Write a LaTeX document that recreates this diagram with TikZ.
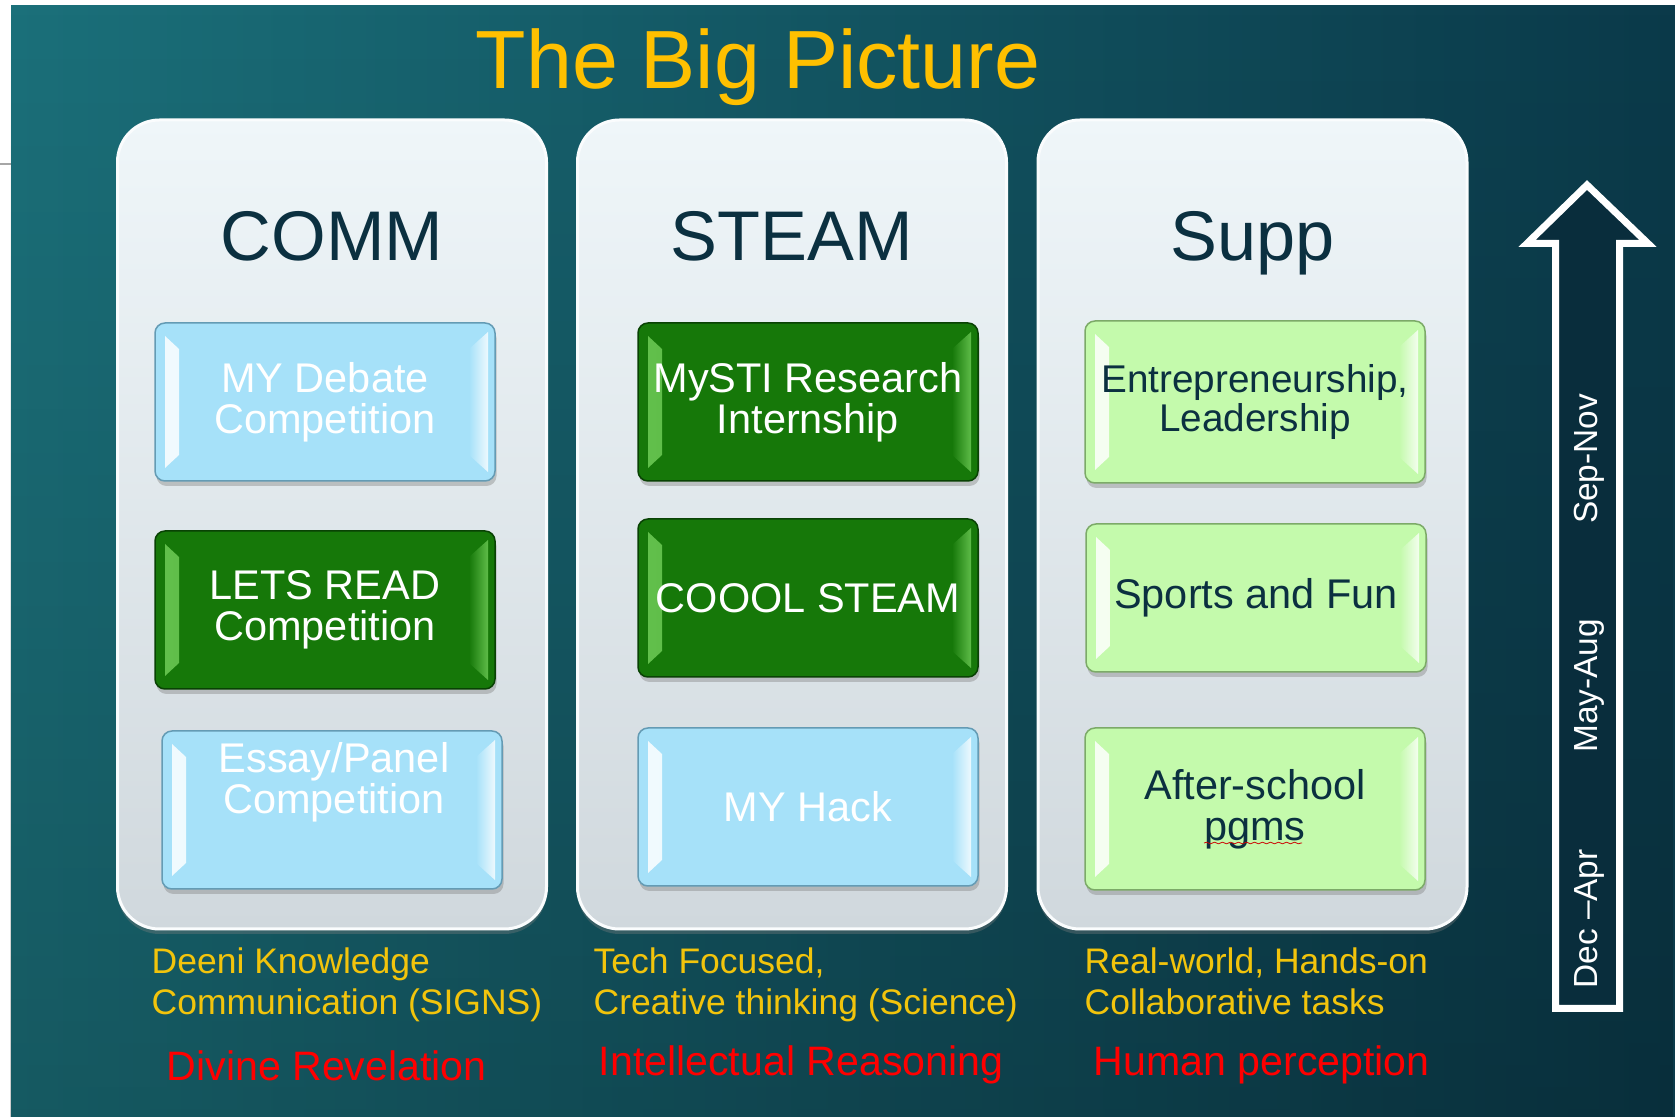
\documentclass[tikz,border=0pt]{standalone}
\usepackage{fontspec}
\setmainfont{Liberation Sans}
\usetikzlibrary{shadows,fadings,decorations.pathmorphing}
\definecolor{bgl}{RGB}{27,112,122}
\definecolor{bgr}{RGB}{11,58,74}
\definecolor{navy}{RGB}{11,48,64}
\definecolor{gold}{RGB}{255,192,0}
\definecolor{amber}{RGB}{242,196,12}
\definecolor{pnltop}{RGB}{239,246,249}
\definecolor{pnlbot}{RGB}{208,216,221}
\definecolor{skyface}{RGB}{166,225,249}
\definecolor{skyrim}{RGB}{100,155,180}
\definecolor{grnface}{RGB}{22,120,9}
\definecolor{grnrim}{RGB}{9,66,4}
\definecolor{grnhi}{RGB}{112,205,88}
\definecolor{limeface}{RGB}{196,250,172}
\definecolor{limerim}{RGB}{124,170,104}
\definecolor{arrowfill}{RGB}{9,45,60}

\tikzset{
  bevel/.style 2 args={path picture={
    \shade[sharp corners, left color=#2!85!#1, right color=#2!45!#1]
      ([shift={(1mm,-1.3mm)}]path picture bounding box.north west)
      -- ([shift={(2.4mm,-2.6mm)}]path picture bounding box.north west)
      -- ([shift={(2.4mm,2.6mm)}]path picture bounding box.south west)
      -- ([shift={(1mm,1.3mm)}]path picture bounding box.south west) -- cycle;
    \shade[sharp corners, left color=#1, right color=#2!80!#1]
      ([shift={(-2.6mm,-2.6mm)}]path picture bounding box.north east)
      -- ([shift={(-0.7mm,-0.9mm)}]path picture bounding box.north east)
      -- ([shift={(-0.7mm,0.9mm)}]path picture bounding box.south east)
      -- ([shift={(-2.6mm,2.6mm)}]path picture bounding box.south east) -- cycle;
  }},
  panel/.style={rounded corners=4.2mm, minimum width=42.9mm, minimum height=80.9mm,
    top color=pnltop, bottom color=pnlbot, draw=white!70!pnltop, line width=0.3mm,
    drop shadow={opacity=0.35, shadow xshift=0mm, shadow yshift=-0.5mm}},
  head/.style={text=navy, font=\fontsize{20}{24}\selectfont, anchor=base},
  bx/.style={rounded corners=1mm, minimum width=34mm, minimum height=15.8mm,
    inner sep=0pt, align=center, line width=0.15mm,
    font=\fontsize{11.8}{11.6}\selectfont,
    drop shadow={opacity=0.4, shadow xshift=0.15mm, shadow yshift=-0.5mm}},
  skybx/.style={bx, fill=skyface, draw=skyrim, text=white, bevel={skyface}{white}},
  grnbx/.style={bx, fill=grnface, draw=grnrim, text=white, bevel={grnface}{grnhi}},
  limebx/.style={bx, fill=limeface, draw=limerim, text=navy, bevel={limeface}{white}},
  remark/.style={text=amber, font=\fontsize{10.1}{11.7}\selectfont, align=left,
    anchor=north west, inner sep=0pt},
  theme/.style={text=red, font=\fontsize{11.7}{14}\selectfont, anchor=base west, inner sep=0pt},
  period/.style={text=white, font=\fontsize{9.5}{11}\selectfont, rotate=90}
}

\begin{document}
\begin{tikzpicture}[x=0.1mm, y=-0.1mm]
\useasboundingbox (0,0) rectangle (1675,1117);
\fill[white] (0,0) rectangle (1675,1117);
\draw[gray!70, line width=0.2mm] (0,164) -- (11,164);
\shade[left color=bgl, right color=bgr] (11,6) rectangle (1675,1117);
\fill[black, fill opacity=0.2, path fading=north] (11,6) rectangle (1675,1117);

\node[font=\fontsize{23.5}{28}\selectfont, text=gold, anchor=base] (title) at (758,89) {The Big Picture};

\node[panel] (pc) at (332,524.5) {};
\node[panel] (ps) at (792,524.5) {};
\node[panel] (pu) at (1252.5,524.5) {};

\node[head] (hc) at (332,261) {COMM};
\node[head] (hs) at (792,261) {STEAM};
\node[head] (hu) at (1252.5,261) {Supp};

\node[skybx] (c1) at (325,402) {MY Debate\\Competition};
\node[grnbx] (c2) at (325,610) {LETS READ\\Competition};
\node[skybx] (c3) at (332,810) {};
\node[align=center, text=white, font=\fontsize{11.8}{11.6}\selectfont] (c3t) at (334,782) {Essay/Panel\\Competition};

\node[grnbx] (s1) at (808,402) {MySTI Research\\Internship};
\node[grnbx] (s2) at (808,598) {COOOL STEAM};
\node[skybx] (s3) at (808,807) {MY Hack};

\node[limebx, minimum height=16.2mm, font=\fontsize{11}{11.3}\selectfont] (u1) at (1255,402) {Entrepreneurship,\\Leadership};
\node[limebx, minimum height=14.8mm] (u2) at (1256,598) {Sports and Fun};
\node[limebx, minimum height=16.2mm] (u3) at (1255,809) {After-school\\pgms};
\draw[red!80!black, line width=0.08mm, decorate,
  decoration={snake, amplitude=0.08mm, segment length=0.8mm}] (1204,843) -- (1302,843);

\node[remark] (nc) at (151,947) {Deeni Knowledge\\Communication (SIGNS)};
\node[remark] (ns) at (593,947) {Tech Focused,\\Creative thinking (Science)};
\node[remark] (nu) at (1084,947) {Real-world, Hands-on\\Collaborative tasks};

\node[theme] (tc) at (166,1081) {Divine Revelation};
\node[theme] (ts) at (598,1076) {Intellectual Reasoning};
\node[theme] (tu) at (1093,1076) {Human perception};

\draw[draw=white, fill=arrowfill, line width=0.7mm, line join=miter]
  (1555.5,1008.5) -- (1555.5,243.5) -- (1527,243.5) -- (1587,185)
  -- (1648,243.5) -- (1619.5,243.5) -- (1619.5,1008.5) -- cycle;
\node[period] (m1) at (1589,459) {Sep-Nov};
\node[period] (m2) at (1589,686) {May-Aug};
\node[period] (m3) at (1589,919) {Dec –Apr};
\end{tikzpicture}
\end{document}
